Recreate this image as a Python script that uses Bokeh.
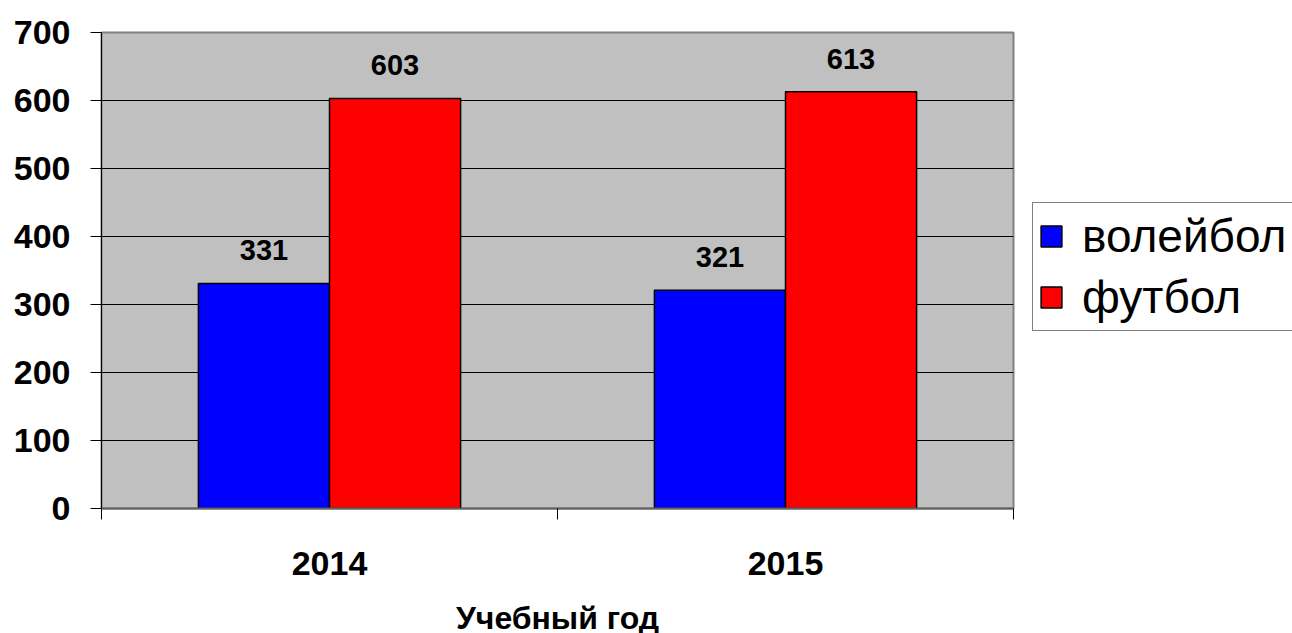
from bokeh.plotting import figure
from bokeh.models import Range1d, FixedTicker, Legend, LegendItem, ColumnDataSource
from bokeh.embed import file_html
from bokeh.resources import INLINE

years = ["2014", "2015"]
volleyball = [331, 321]
football = [603, 613]
series_names = ["волейбол", "футбол"]
series_colors = ["#0000FF", "#FF0000"]
y_ticks = [0, 100, 200, 300, 400, 500, 600, 700]

FONT = "Liberation Sans"
bar_w = 0.2875
centers = [i + 0.5 for i in range(len(years))]

p = figure(frame_width=912, frame_height=476,
           x_range=Range1d(0, len(years)), y_range=Range1d(0, 700),
           output_backend="svg", toolbar_location=None,
           min_border_left=101, min_border_right=275,
           min_border_top=32, min_border_bottom=122)
p.background_fill_color = "#C0C0C0"
p.border_fill_color = "white"
p.outline_line_color = "#808080"
p.outline_line_width = 2

src_v = ColumnDataSource(dict(x=[c - bar_w / 2 for c in centers], top=volleyball,
                              lab=[str(v) for v in volleyball]))
src_f = ColumnDataSource(dict(x=[c + bar_w / 2 for c in centers], top=football,
                              lab=[str(v) for v in football]))

rv = p.vbar(x="x", top="top", width=bar_w, source=src_v, fill_color=series_colors[0],
            line_color="black", line_width=1.5)
rf = p.vbar(x="x", top="top", width=bar_w, source=src_f, fill_color=series_colors[1],
            line_color="black", line_width=1.5)

for s in (src_v, src_f):
    p.text(x="x", y="top", text="lab", source=s, text_align="center",
           text_baseline="middle", y_offset=-33, text_font_size="29px",
           text_font_style="bold", text_color="black",
           text_font={"value": FONT})

# grid
p.xgrid.grid_line_color = None
p.ygrid.ticker = FixedTicker(ticks=y_ticks)
p.ygrid.grid_line_color = "black"
p.ygrid.grid_line_width = 1

# y axis
p.yaxis.ticker = FixedTicker(ticks=y_ticks)
p.yaxis.major_tick_out = 11
p.yaxis.major_tick_in = 0
p.yaxis.minor_tick_line_color = None
p.yaxis.axis_line_color = "black"
p.yaxis.major_label_text_font = FONT
p.yaxis.major_label_text_font_style = "bold"
p.yaxis.major_label_text_font_size = "34px"
p.yaxis.major_label_text_color = "black"
p.yaxis.major_label_standoff = 20

# x axis
p.xaxis.ticker = FixedTicker(ticks=centers, minor_ticks=list(range(len(years) + 1)))
p.xaxis.major_label_overrides = {c: y for c, y in zip(centers, years)}
p.xaxis.major_tick_line_color = None
p.xaxis.major_tick_out = 0
p.xaxis.major_tick_in = 0
p.xaxis.minor_tick_out = 11
p.xaxis.minor_tick_in = 0
p.xaxis.minor_tick_line_color = "black"
p.xaxis.axis_line_color = "#606060"
p.xaxis.axis_line_width = 2
p.xaxis.major_label_text_font = FONT
p.xaxis.major_label_text_font_style = "bold"
p.xaxis.major_label_text_font_size = "34px"
p.xaxis.major_label_text_color = "black"
p.xaxis.major_label_standoff = 32
p.xaxis.axis_label = "Учебный год"
p.xaxis.axis_label_text_font = FONT
p.xaxis.axis_label_text_font_style = "bold"
p.xaxis.axis_label_text_font_size = "32px"
p.xaxis.axis_label_text_color = "black"
p.xaxis.axis_label_standoff = 22

legend = Legend(items=[LegendItem(label=series_names[0], renderers=[rv]),
                       LegendItem(label=series_names[1], renderers=[rf])],
                location=(19, 177))
legend.label_text_font = FONT
legend.label_text_font_size = "46px"
legend.label_text_color = "black"
legend.glyph_width = 26
legend.glyph_height = 26
legend.label_height = 56
legend.label_width = 290
legend.label_standoff = 18
legend.spacing = 5
legend.padding = 5
legend.margin = 0
legend.border_line_color = "black"
legend.border_line_width = 1
legend.background_fill_color = "white"
legend.background_fill_alpha = 1
p.add_layout(legend, "right")

open("out.html", "w").write(file_html(p, INLINE))
